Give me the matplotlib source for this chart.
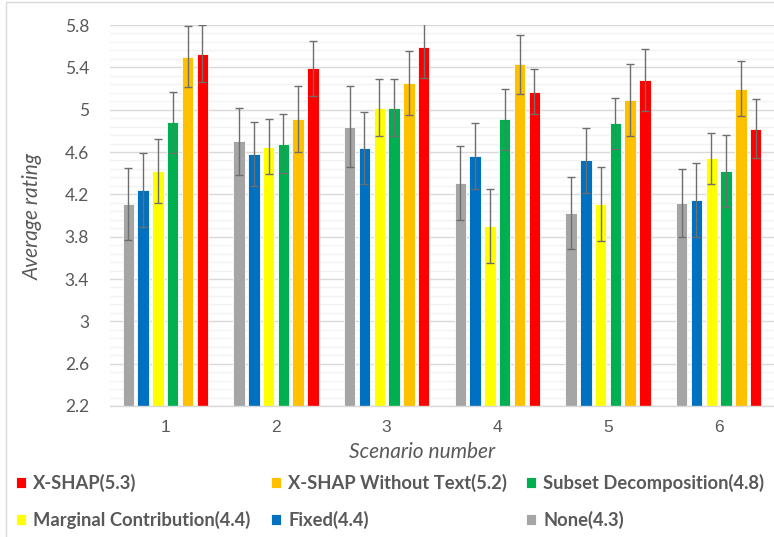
""" Grouped bar chart of average rating per scenario for each
    explanation method, with error bars """

import matplotlib.pyplot as plt
from matplotlib.patches import Rectangle
import numpy as np

plt.rcParams['font.family'] = ['Lato', 'DejaVu Sans']

scenarios = ['1', '2', '3', '4', '5', '6']
methods = ['None(4.3)', 'Fixed(4.4)', 'Marginal Contribution(4.4)',
           'Subset Decomposition(4.8)', 'X-SHAP Without Text(5.2)',
           'X-SHAP(5.3)']
colours = ['#A5A5A5', '#0070C0', '#FFFF00', '#00B050', '#FFC000', '#FF0000']

none_mean = [4.11, 4.70, 4.84, 4.31, 4.02, 4.12]
fixed_mean = [4.24, 4.58, 4.64, 4.56, 4.52, 4.15]
marginal_mean = [4.42, 4.65, 5.02, 3.90, 4.11, 4.54]
subset_mean = [4.88, 4.68, 5.02, 4.91, 4.87, 4.42]
notext_mean = [5.50, 4.91, 5.25, 5.43, 5.09, 5.20]
xshap_mean = [5.53, 5.39, 5.59, 5.17, 5.28, 4.82]

none_err = [0.34, 0.32, 0.38, 0.35, 0.34, 0.32]
fixed_err = [0.35, 0.30, 0.34, 0.31, 0.31, 0.35]
marginal_err = [0.30, 0.26, 0.27, 0.35, 0.35, 0.24]
subset_err = [0.29, 0.28, 0.27, 0.29, 0.24, 0.34]
notext_err = [0.29, 0.31, 0.30, 0.28, 0.34, 0.26]
xshap_err = [0.27, 0.26, 0.29, 0.21, 0.29, 0.28]

means = [none_mean, fixed_mean, marginal_mean, subset_mean,
         notext_mean, xshap_mean]
errors = [none_err, fixed_err, marginal_err, subset_err,
          notext_err, xshap_err]

text_grey = '#595959'

fig = plt.figure(figsize=(7.74, 5.37), dpi=100)
# Light chart border as in the spreadsheet export
fig.patches.append(Rectangle((6 / 774, -0.1), 1.2, 1.1 - 2 / 537,
                             transform=fig.transFigure, fill=False,
                             edgecolor='#D9D9D9', linewidth=1))
ax = fig.add_axes([110 / 774, 131 / 537, 664 / 774, 381 / 537])

x = np.arange(len(scenarios))
slot = 0.1336
width = 0.104
bars = []
for i, (m, e, c) in enumerate(zip(means, errors, colours)):
    b = ax.bar(x + (i - 2.5) * slot, m, width, color=c,
               edgecolor='white', linewidth=0.6, zorder=2, bottom=0)
    ax.errorbar(x + (i - 2.5) * slot, m, yerr=e, fmt='none',
                ecolor='#6E6E6E', elinewidth=1.0, capsize=3.2,
                capthick=1.0, zorder=3)
    bars.append(b)

ax.set_ylim(2.2, 5.8)
ax.set_xlim(-0.5, 5.5)
ax.set_yticks(np.arange(2.2, 5.81, 0.4))
ax.set_yticklabels(['2.2', '2.6', '3', '3.4', '3.8', '4.2', '4.6',
                    '5', '5.4', '5.8'])
ax.set_yticks(np.arange(2.2, 5.81, 0.08), minor=True)
ax.set_xticks(x)
ax.set_xticklabels(scenarios, family='Liberation Sans')
ax.tick_params(axis='y', which='both', length=0, pad=15,
               labelsize=12.5, labelcolor=text_grey)
ax.tick_params(axis='x', length=0, pad=10, labelsize=12.5,
               labelcolor=text_grey)
ax.grid(axis='y', which='major', color='#D9D9D9', linewidth=1, zorder=0)
ax.grid(axis='y', which='minor', color='#F2F2F2', linewidth=1, zorder=0)
ax.set_axisbelow(True)
for side in ['top', 'right', 'left']:
    ax.spines[side].set_visible(False)
ax.spines['bottom'].set_color('#D9D9D9')
ax.spines['bottom'].set_linewidth(1)
ax.spines['bottom'].set_zorder(4)

fig.text(33 / 774, 1 - 216 / 537, 'Average rating', rotation=90,
         ha='center', va='center', style='italic', fontsize=15,
         color=text_grey)
fig.text(422 / 774, 1 - 452 / 537, 'Scenario number', ha='center',
         va='center', style='italic', fontsize=15, color=text_grey)

# Legend is laid out row by row in three fixed columns
columns = [[5, 2], [4, 1], [3, 0]]
col_x = [16, 271, 526]
for idx, cx in zip(columns, col_x):
    leg = fig.legend([bars[i] for i in idx], [methods[i] for i in idx],
                     loc='upper left', bbox_to_anchor=(cx / 774, 1 - 474 / 537),
                     frameon=False, borderpad=0, borderaxespad=0,
                     handlelength=0.55, handleheight=0.55,
                     handletextpad=0.4, labelspacing=1.05,
                     prop={'family': 'Lato', 'weight': 'bold',
                           'size': 13.2},
                     labelcolor=text_grey)

fig.savefig('out.png', dpi=100)
